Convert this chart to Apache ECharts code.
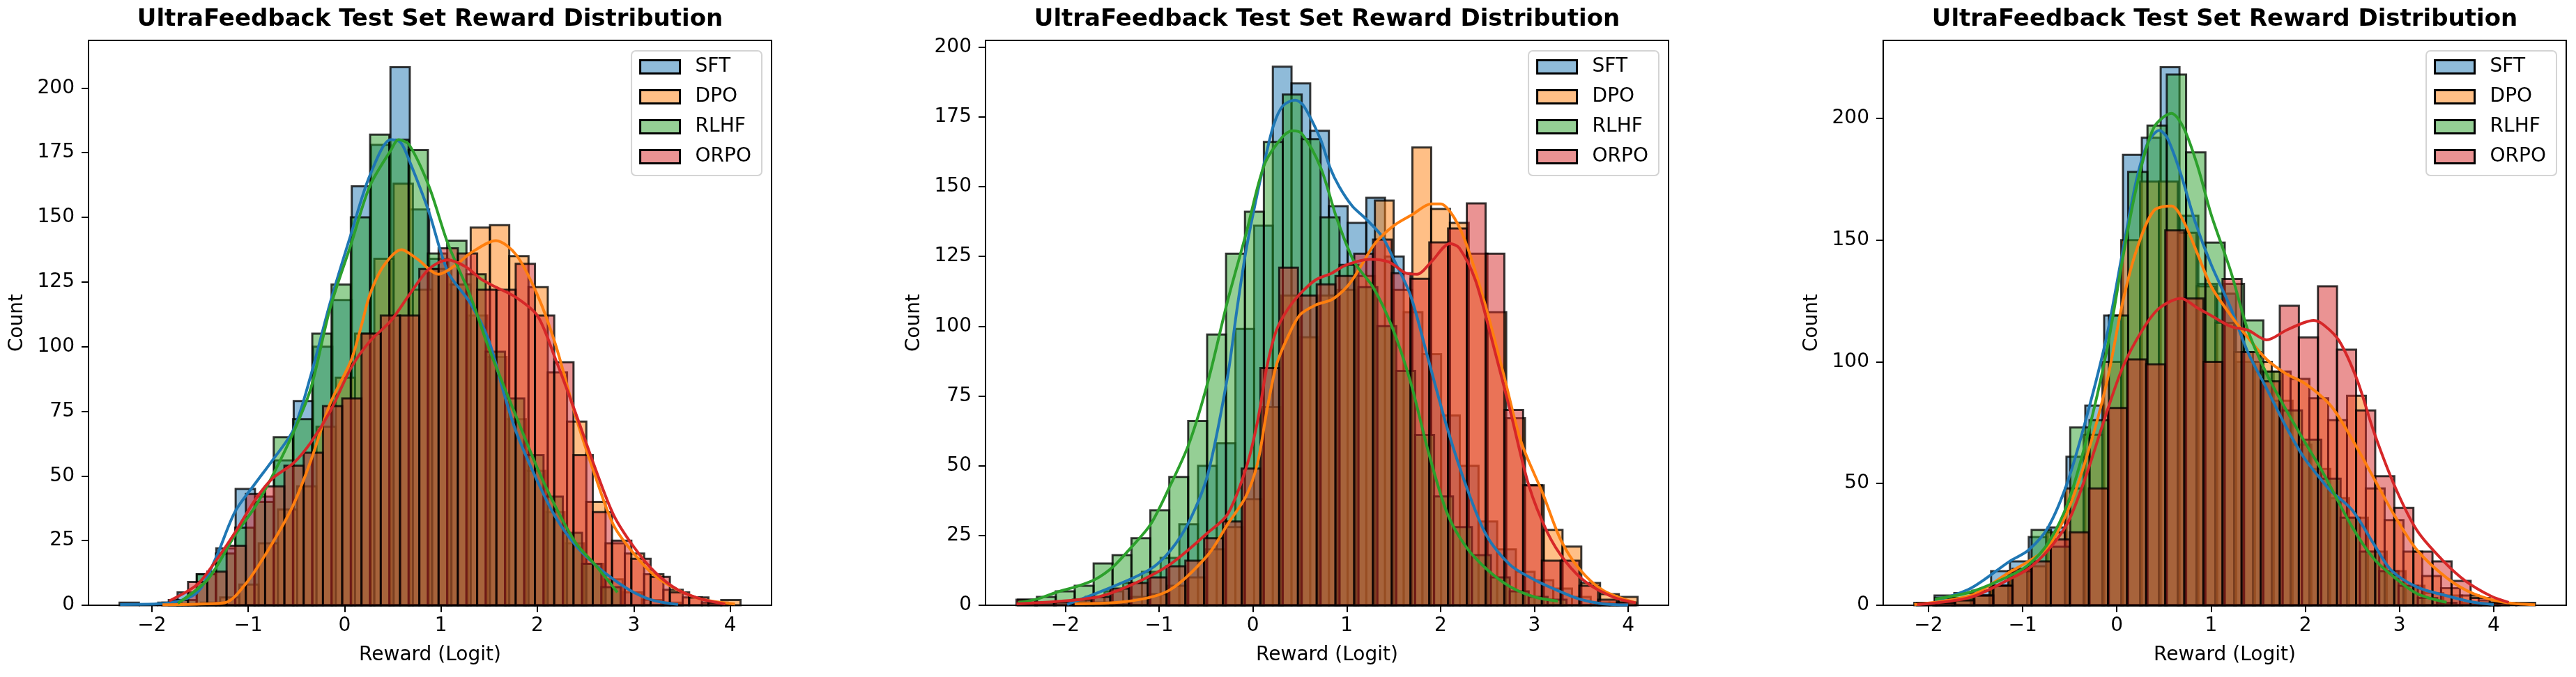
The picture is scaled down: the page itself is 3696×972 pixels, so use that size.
<!DOCTYPE html>
<html>
<head>
<meta charset="utf-8">
<script src="https://cdn.jsdelivr.net/npm/echarts@6/dist/echarts.min.js"></script>
<style>
  html, body { margin: 0; padding: 0; background: #fff; }
  #chart { width: 3696px; height: 972px; }
</style>
</head>
<body>
<div id="chart"></div>
<script>
// series names and tick labels
const methods = ['SFT', 'DPO', 'RLHF', 'ORPO'];
const titleText = 'UltraFeedback Test Set Reward Distribution';
const xTicks = [-2, -1, 0, 1, 2, 3, 4];
const p1YTicks = [0, 25, 50, 75, 100, 125, 150, 175, 200];
const p2YTicks = [0, 25, 50, 75, 100, 125, 150, 175, 200];
const p3YTicks = [0, 50, 100, 150, 200];

// histogram bins: [first edge, bin width] and counts per bin
// ---- panel 1
const p1SftBins = [-2.336, 0.2008];
const p1SftCounts = [1, 0, 1, 5, 12, 22, 45, 42, 56, 79, 100, 118, 162, 178, 208, 153, 134, 124, 112, 96, 72, 52, 36, 24, 16, 10, 5, 2, 1];
const p1DpoBins = [-1.892, 0.2];
const p1DpoCounts = [1, 0, 1, 3, 8, 24, 37, 46, 69, 88, 105, 134, 163, 122, 130, 124, 146, 147, 135, 123, 90, 71, 40, 24, 20, 12, 6, 3, 1, 2];
const p1RlhfBins = [-1.736, 0.2];
const p1RlhfCounts = [2, 12, 20, 30, 40, 65, 72, 105, 124, 150, 182, 180, 176, 136, 141, 128, 98, 80, 58, 42, 28, 16, 7];
const p1OrpoBins = [-1.825, 0.2];
const p1OrpoCounts = [2, 9, 13, 23, 43, 46, 54, 59, 77, 80, 105, 112, 112, 130, 138, 136, 122, 122, 132, 112, 94, 58, 36, 25, 18, 11, 5, 3, 1];
// ---- panel 2
const p2SftBins = [-1.98, 0.1993];
const p2SftCounts = [1, 3, 5, 8, 12, 17, 29, 50, 58, 99, 136, 193, 187, 170, 143, 137, 146, 125, 105, 90, 68, 50, 30, 20, 12, 9, 6, 3, 1, 1];
const p2DpoBins = [-1.9, 0.2];
const p2DpoCounts = [1, 1, 1, 3, 4, 7, 10, 20, 28, 38, 71, 111, 96, 111, 113, 118, 145, 113, 164, 142, 137, 126, 105, 67, 43, 27, 21, 8, 4, 3];
const p2RlhfBins = [-2.504, 0.2016];
const p2RlhfCounts = [2, 3, 5, 7, 15, 18, 24, 34, 46, 66, 97, 126, 141, 166, 183, 167, 139, 122, 114, 100, 84, 61, 39, 28, 18, 10, 5, 3, 2];
const p2OrpoBins = [-2.52, 0.2];
const p2OrpoCounts = [2, 1, 1, 2, 3, 6, 8, 10, 14, 16, 24, 30, 49, 85, 121, 111, 115, 118, 126, 131, 119, 117, 130, 135, 144, 126, 70, 43, 16, 16, 7, 2, 1];
// ---- panel 3
const p3SftBins = [-1.935, 0.2];
const p3SftCounts = [4, 3, 6, 14, 18, 28, 32, 61, 82, 119, 185, 192, 221, 160, 132, 128, 100, 96, 84, 66, 56, 44, 36, 22, 14, 8, 5, 4, 1, 1];
const p3DpoBins = [-2.15, 0.1997];
const p3DpoCounts = [1, 1, 2, 4, 8, 14, 16, 30, 48, 70, 100, 150, 174, 174, 153, 131, 116, 104, 100, 96, 93, 85, 76, 86, 48, 35, 22, 12, 7, 4, 2, 1, 1];
const p3RlhfBins = [-1.93, 0.205];
const p3RlhfCounts = [3, 5, 4, 8, 14, 31, 24, 73, 76, 119, 178, 197, 218, 186, 149, 132, 117, 96, 80, 68, 52, 36, 22, 14, 8, 3, 1];
const p3OrpoBins = [-2.12, 0.2026];
const p3OrpoCounts = [1, 1, 2, 4, 8, 15, 18, 27, 30, 48, 81, 101, 99, 154, 126, 100, 134, 104, 92, 123, 110, 131, 105, 80, 53, 40, 22, 18, 10, 3, 1];

// KDE curves: [reward, count]
const p1SftKde = [[-2.33,0.3],[-1.84,0.8],[-1.53,5],[-1.34,18],[-1.14,36],[-0.93,47],[-0.75,56],[-0.53,68],[-0.35,89],[-0.15,117],[0.07,144],[0.26,166],[0.48,180],[0.58,179],[0.67,172],[0.875,152],[1.07,129],[1.3,117],[1.49,103],[1.66,81],[1.78,67],[2.0,48],[2.19,34],[2.4,23],[2.6,15.6],[2.79,10],[3.0,5],[3.22,1.7],[3.46,0.3]];
const p1DpoKde = [[-1.89,0.2],[-1.5,0.5],[-1.24,1],[-1.02,8.6],[-0.75,24],[-0.53,39],[-0.35,56],[-0.15,78],[0.07,95],[0.18,109],[0.26,120],[0.4,131],[0.59,137.5],[0.75,134],[0.975,128],[1.17,132],[1.3,136],[1.57,141],[1.78,135.5],[2.0,120],[2.19,100.6],[2.4,72.7],[2.6,50],[2.79,31],[3.0,20],[3.22,11.4],[3.46,5.9],[3.7,2.4],[4.05,0.5]];
const p1RlhfKde = [[-1.73,0.8],[-1.42,10],[-1.14,27],[-0.93,38],[-0.75,50],[-0.53,67],[-0.35,84],[-0.15,115],[0.07,140],[0.26,162],[0.48,176],[0.56,180],[0.67,178],[0.875,162],[1.07,140],[1.3,120],[1.49,100],[1.66,84],[1.78,73],[2.0,53],[2.19,38],[2.4,24],[2.6,15.6],[2.83,5]];
const p1OrpoKde = [[-1.82,1.7],[-1.53,8],[-1.34,17],[-1.14,28],[-0.93,40.7],[-0.75,49],[-0.53,55],[-0.35,63],[-0.15,75],[0.07,92],[0.26,102],[0.48,110],[0.67,120],[0.875,130],[1.07,133.5],[1.25,131],[1.42,126],[1.57,123],[1.78,119],[2.0,112],[2.19,95],[2.4,74],[2.6,53],[2.79,35],[3.0,22.6],[3.22,12.8],[3.46,5.9],[3.7,2.4],[3.95,0.5]];
const p2SftKde = [[-1.98,0.3],[-1.49,6.7],[-1.09,13],[-0.88,19.6],[-0.68,30],[-0.48,47],[-0.27,82],[-0.17,106],[-0.074,127],[0.025,144],[0.124,159],[0.22,172],[0.32,179],[0.45,181],[0.54,179],[0.72,167],[0.82,157],[0.92,150],[1.06,143],[1.2,138.6],[1.38,132],[1.5,124],[1.68,111],[1.87,88],[2.07,63.6],[2.27,43],[2.49,25],[2.74,14.5],[2.99,9.3],[3.24,5.4],[3.48,2.2],[3.73,0.5],[4.0,0.1]];
const p2DpoKde = [[-1.9,0.5],[-1.31,1.5],[-0.89,5.4],[-0.48,18],[-0.27,29],[-0.074,39],[0.05,51],[0.15,70],[0.25,86],[0.37,96],[0.5,104],[0.67,107.6],[0.84,109.5],[0.97,113],[1.06,116.6],[1.16,122],[1.3,129.6],[1.5,136],[1.7,140],[1.9,143.8],[2.0,143.8],[2.15,138.6],[2.29,128],[2.49,106],[2.67,83],[2.86,58.4],[3.09,40],[3.28,23.5],[3.48,13],[3.73,5.4],[4.08,0.9]];
const p2RlhfKde = [[-2.5,1],[-2.3,2.2],[-2.08,4.8],[-1.88,6.7],[-1.68,9.3],[-1.49,13.8],[-1.29,21],[-1.09,29],[-0.88,43],[-0.68,58],[-0.48,80],[-0.27,109],[-0.074,133],[0.124,158],[0.32,168],[0.42,170],[0.52,169],[0.72,157],[0.9,138],[1.08,123],[1.28,114],[1.48,100],[1.68,80],[1.87,55],[2.07,33],[2.27,21],[2.49,13],[2.74,6.7],[3.0,3],[3.25,1.5]];
const p2OrpoKde = [[-2.52,0.5],[-1.68,2.8],[-1.29,7.4],[-0.89,14.5],[-0.48,26],[-0.27,32.6],[-0.074,49],[0.05,66],[0.15,85.6],[0.25,98.5],[0.37,106],[0.5,111.5],[0.67,116.6],[0.84,119],[1.0,122],[1.25,124],[1.45,123],[1.63,119],[1.75,118.6],[1.9,123],[2.1,129.6],[2.2,128],[2.37,116.6],[2.54,96],[2.74,70],[2.94,43],[3.14,26],[3.33,15.8],[3.56,8],[3.85,2.8],[4.08,0.9]];
const p3SftKde = [[-1.93,1.8],[-1.55,7],[-1.14,18],[-0.94,22.6],[-0.73,32],[-0.52,51],[-0.32,77.5],[-0.11,110],[0.065,146],[0.21,175],[0.33,190],[0.45,195],[0.535,192],[0.68,177],[0.83,157.6],[1.0,140],[1.21,122],[1.39,104],[1.59,89],[1.8,73],[1.98,61],[2.18,51],[2.27,47],[2.5,39],[2.73,25],[2.91,14.5],[3.19,7.4],[3.51,3.8],[3.79,1.2],[4.0,0.3]];
const p3DpoKde = [[-2.15,0.3],[-1.55,4],[-1.14,13.6],[-0.94,18],[-0.73,24],[-0.52,39],[-0.32,61],[-0.11,91],[0.065,125],[0.21,146],[0.39,162],[0.58,164],[0.71,157.6],[0.86,144],[1.0,131],[1.21,119],[1.39,110],[1.59,101],[1.8,95],[2.0,91],[2.27,82],[2.5,68],[2.73,52],[2.96,36],[3.19,22.5],[3.51,11],[3.79,4.7],[4.11,1.2],[4.44,0.2]];
const p3RlhfKde = [[-1.93,2.5],[-1.55,5.5],[-1.14,12],[-0.94,16.6],[-0.73,25.5],[-0.52,42],[-0.32,68.5],[-0.11,104],[0.065,143],[0.21,172],[0.39,196],[0.58,202],[0.71,196],[0.86,180],[1.0,160.6],[1.21,137],[1.39,113],[1.59,95],[1.8,80],[1.98,68],[2.18,55],[2.5,32],[2.73,19],[2.96,11],[3.19,4.7],[3.5,1.2]];
const p3OrpoKde = [[-2.12,0.3],[-1.55,3.3],[-1.14,10.7],[-0.94,15],[-0.73,22.6],[-0.52,34],[-0.32,54],[-0.11,79],[0.065,98],[0.27,113],[0.45,122],[0.68,126],[0.86,122],[1.0,119],[1.21,114.5],[1.39,113],[1.59,109],[1.8,113],[1.98,116],[2.09,117],[2.2,115],[2.36,108.6],[2.55,92.6],[2.73,71],[2.96,48],[3.19,30.5],[3.47,18],[3.7,10],[3.97,3.8],[4.16,1.2]];

// ---------------------------------------------------------------
const FONT = 'DejaVu Sans';
const lineColors = ['#1f77b4', '#ff7f0e', '#2ca02c', '#d62728'];
const fillColors = ['rgba(31,119,180,0.5)', 'rgba(255,127,14,0.5)', 'rgba(44,160,44,0.5)', 'rgba(214,39,40,0.5)'];

const panels = [
  { hist: [[p1SftBins, p1SftCounts], [p1DpoBins, p1DpoCounts], [p1RlhfBins, p1RlhfCounts], [p1OrpoBins, p1OrpoCounts]],
    kde: [p1SftKde, p1DpoKde, p1RlhfKde, p1OrpoKde], yTicks: p1YTicks, xMin: -2.658, xMax: 4.43, yMax: 218.4, left: 127 },
  { hist: [[p2SftBins, p2SftCounts], [p2DpoBins, p2DpoCounts], [p2RlhfBins, p2RlhfCounts], [p2OrpoBins, p2OrpoCounts]],
    kde: [p2SftKde, p2DpoKde, p2RlhfKde, p2OrpoKde], yTicks: p2YTicks, xMin: -2.85, xMax: 4.43, yMax: 202.4, left: 1414 },
  { hist: [[p3SftBins, p3SftCounts], [p3DpoBins, p3DpoCounts], [p3RlhfBins, p3RlhfCounts], [p3OrpoBins, p3OrpoCounts]],
    kde: [p3SftKde, p3DpoKde, p3RlhfKde, p3OrpoKde], yTicks: p3YTicks, xMin: -2.48, xMax: 4.77, yMax: 232, left: 2702 }
];
const gridTop = 58, gridW = 980, gridH = 811;

const minusFmt = v => (v < 0 ? '\u2212' + Math.abs(v) : String(v));
const axisText = { fontFamily: FONT, fontSize: 28, color: '#000' };

const grids = [], xAxes = [], yAxes = [], titles = [], legends = [], series = [];

panels.forEach((p, pi) => {
  grids.push({ left: p.left, top: gridTop, width: gridW, height: gridH, show: true,
    borderColor: '#000', borderWidth: 2, backgroundColor: 'transparent' });
  xAxes.push({
    type: 'value', gridIndex: pi, min: p.xMin, max: p.xMax,
    name: 'Reward (Logit)', nameLocation: 'middle', nameGap: 58, nameTextStyle: axisText,
    axisLine: { show: true, onZero: false, lineStyle: { color: '#000', width: 2 } },
    axisTick: { show: true, length: 10, customValues: xTicks, lineStyle: { color: '#000', width: 2 } },
    axisLabel: { customValues: xTicks, formatter: minusFmt, margin: 16, ...axisText },
    splitLine: { show: false }
  });
  yAxes.push({
    type: 'value', gridIndex: pi, min: 0, max: p.yMax,
    name: 'Count', nameLocation: 'middle', nameGap: 88, nameTextStyle: axisText,
    axisLine: { show: true, onZero: false, lineStyle: { color: '#000', width: 2 } },
    axisTick: { show: true, length: 10, customValues: p.yTicks, lineStyle: { color: '#000', width: 2 } },
    axisLabel: { customValues: p.yTicks, margin: 20, ...axisText },
    splitLine: { show: false }
  });
  titles.push({ text: titleText, left: p.left + gridW / 2, top: 11, textAlign: 'center', padding: 0,
    textStyle: { fontFamily: FONT, fontSize: 34, fontWeight: 'bold', color: '#000' } });
  legends.push({
    orient: 'vertical', right: 3696 - (p.left + gridW - 14), top: 73,
    icon: 'rect', itemWidth: 57, itemHeight: 19, itemGap: 15,
    padding: [9, 15, 13, 11],
    backgroundColor: 'rgba(255,255,255,0.8)', borderColor: '#d4d4d4', borderWidth: 2, borderRadius: 6,
    textStyle: { fontFamily: FONT, fontSize: 28, lineHeight: 28, color: '#000', padding: [0, 0, 0, 17] },
    selectedMode: false,
    data: methods.map((m, mi) => ({ name: m, itemStyle: { color: fillColors[mi], borderColor: '#000', borderWidth: 3 } }))
  });

  p.hist.forEach(([bins, counts], mi) => {
    const rects = counts.map((c, i) => [bins[0] + i * bins[1], bins[0] + (i + 1) * bins[1], c]);
    series.push({
      type: 'custom', name: methods[mi], xAxisIndex: pi, yAxisIndex: pi, z: 1,
      itemStyle: { color: fillColors[mi] },
      encode: { x: [0, 1], y: 2 },
      data: rects,
      renderItem: (params, api) => {
        const a = api.coord([api.value(0), api.value(2)]);
        const b = api.coord([api.value(1), 0]);
        return { type: 'rect',
          shape: { x: a[0], y: a[1], width: b[0] - a[0], height: b[1] - a[1] },
          style: { fill: fillColors[mi], stroke: 'rgba(0,0,0,0.78)', lineWidth: 3 } };
      }
    });
  });
  p.kde.forEach((pts, mi) => {
    series.push({
      type: 'line', name: methods[mi], xAxisIndex: pi, yAxisIndex: pi, z: 3,
      data: pts, smooth: 0.3, showSymbol: false, symbol: 'none',
      itemStyle: { color: lineColors[mi] },
      lineStyle: { color: lineColors[mi], width: 4 }
    });
  });
});

const chart = echarts.init(document.getElementById('chart'), null, { renderer: 'canvas' });
chart.setOption({
  backgroundColor: '#fff',
  animation: false,
  title: titles,
  legend: legends,
  grid: grids,
  xAxis: xAxes,
  yAxis: yAxes,
  series: series
});
</script>
</body>
</html>
